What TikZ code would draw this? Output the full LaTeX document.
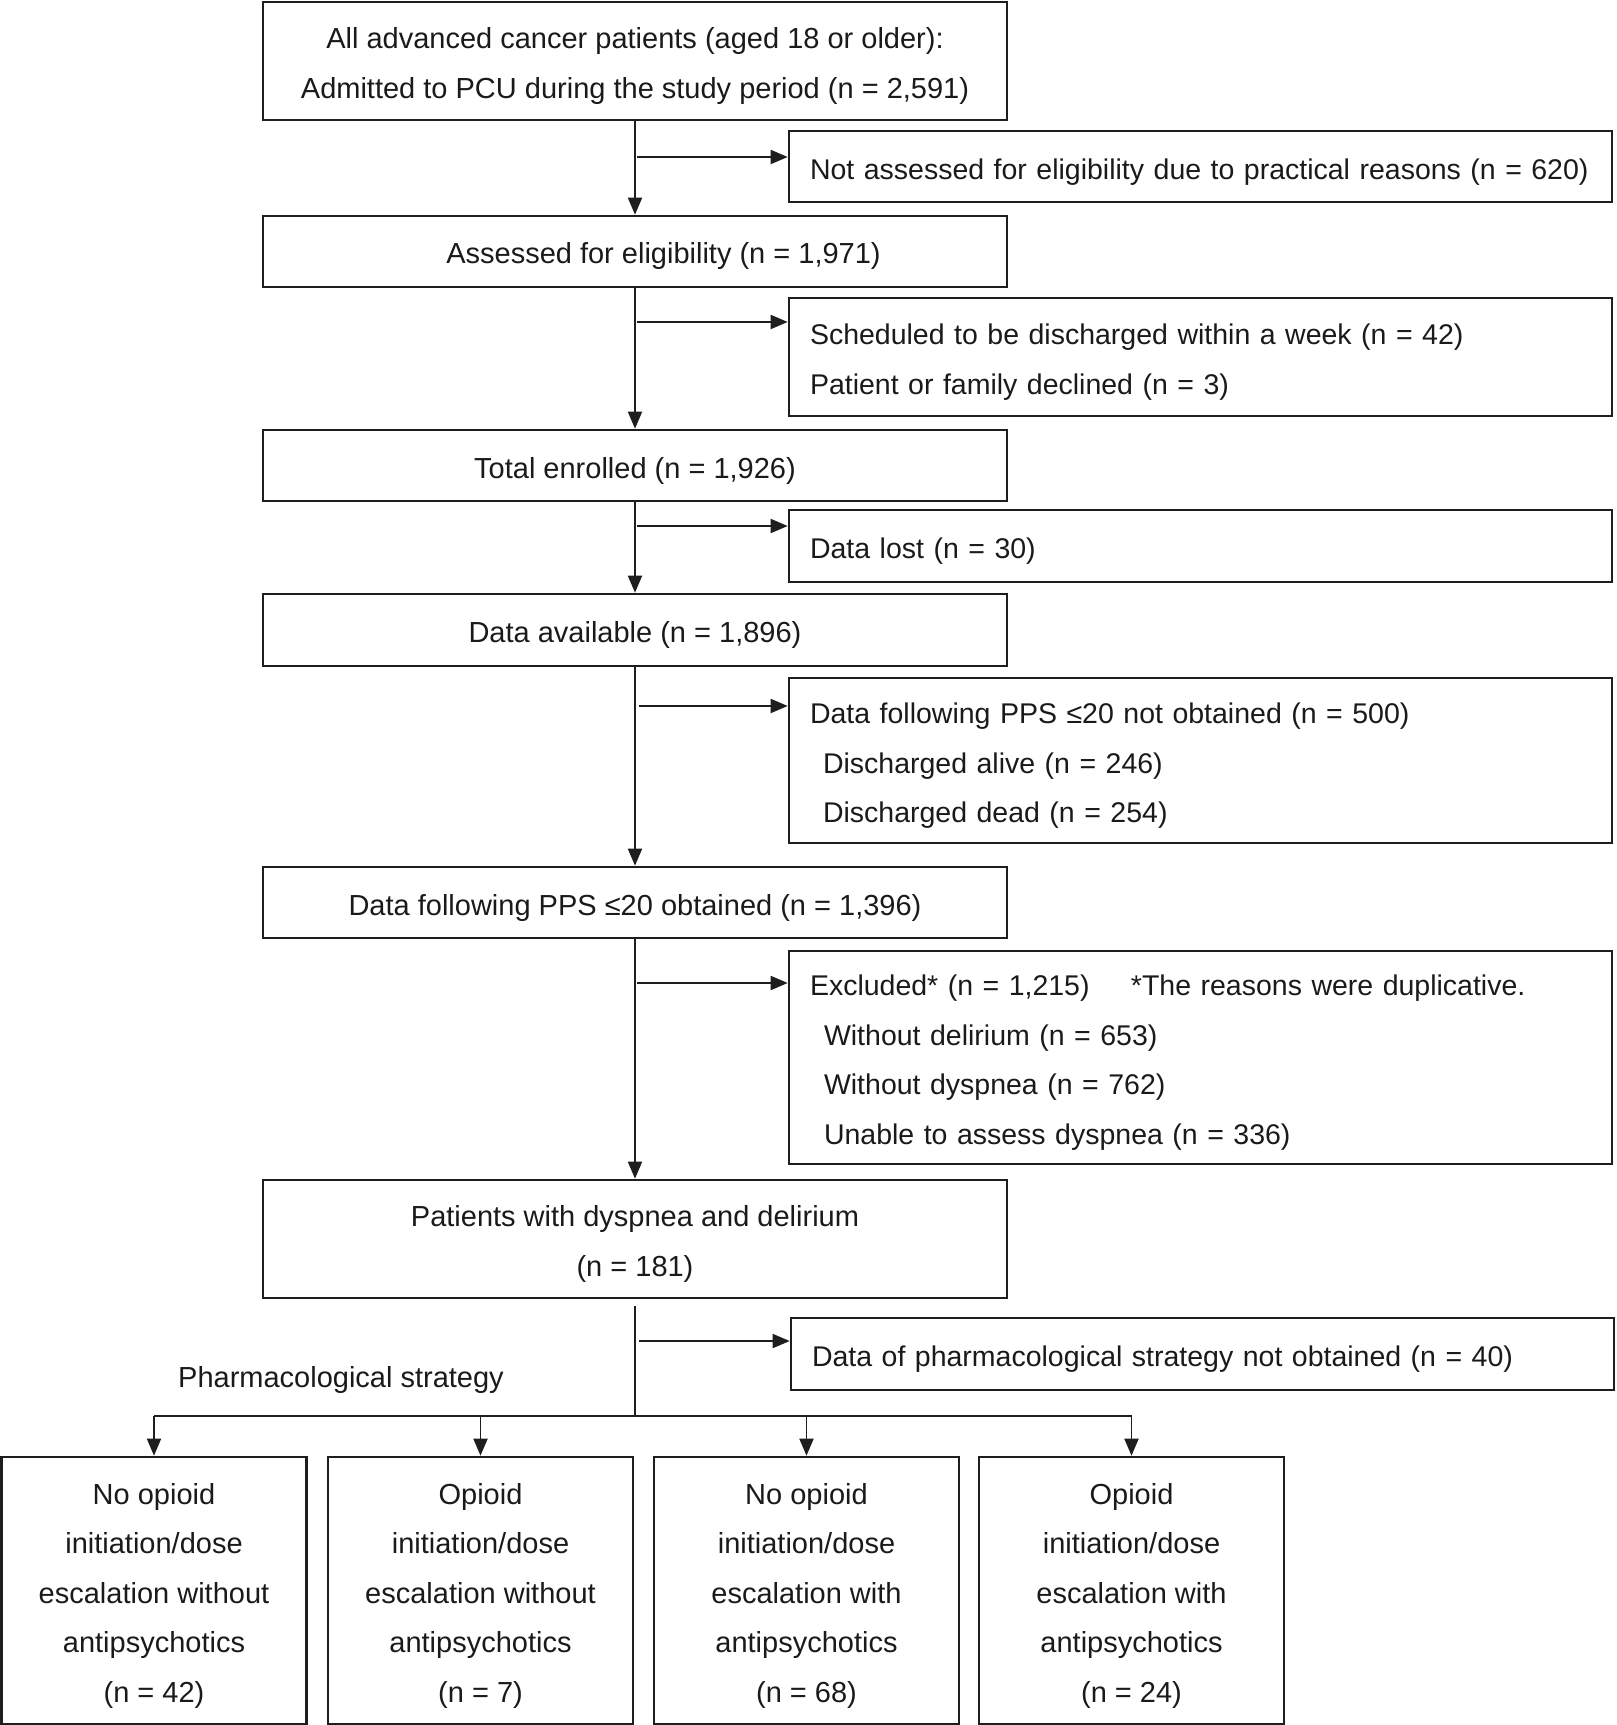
\documentclass[tikz,border=0pt]{standalone}
\usepackage{fontspec}
\setmainfont{Liberation Sans}
\usetikzlibrary{arrows.meta}
\definecolor{linec}{HTML}{1E1E1E}
\definecolor{txt}{HTML}{1A1A1A}
\newcommand\upstrut{\rule{0pt}{31pt}}
\begin{document}
\begin{tikzpicture}[x=1pt,y=-1pt,
 box/.style={draw=linec, line width=2.6pt, inner sep=0pt, font=\fontsize{29}{49.5}\selectfont, text=txt},
 lbox/.style={box, minimum width=744pt, align=center},
 rbox/.style={box, font=\fontsize{28.5}{49.5}\selectfont, text width=781pt, inner xsep=21pt, align=left, minimum width=823pt},
 bbox/.style={box, minimum width=305pt, minimum height=267pt, align=center},
 conn/.style={draw=linec, line width=1.8pt},
 arr/.style={conn, -{Triangle[length=17pt,width=14pt]}},
]
\useasboundingbox (0,0) rectangle (1617,1725);
\node[lbox, minimum height=118pt] (b1) at (635,61) {\upstrut All advanced cancer patients (aged 18 or older):\\Admitted to PCU during the study period (n = 2,591)};
\node[rbox, minimum height=71pt] (r1) at (1200.5,166.5) {\upstrut\mbox{Not assessed for eligibility due to practical reasons (n = 620)}};
\node[lbox, minimum height=71pt] (b2) at (635,251.5) {\upstrut\hspace*{57pt}Assessed for eligibility (n = 1,971)};
\node[rbox, minimum height=118pt] (r2) at (1200.5,357) {\upstrut Scheduled to be discharged within a week (n = 42)\\Patient or family declined (n = 3)};
\node[lbox, minimum height=71pt] (b3) at (635,465.5) {\upstrut Total enrolled (n = 1,926)};
\node[rbox, minimum height=72pt] (r3) at (1200.5,546) {\upstrut Data lost (n = 30)};
\node[lbox, minimum height=72pt] (b4) at (635,630) {\upstrut Data available (n = 1,896)};
\node[rbox, minimum height=165pt] (r4) at (1200.5,760.5) {\upstrut Data following PPS ≤20 not obtained (n = 500)\\\hspace*{13pt}Discharged alive (n = 246)\\\hspace*{13pt}Discharged dead (n = 254)};
\node[lbox, minimum height=71pt] (b5) at (635,902.5) {\upstrut Data following PPS ≤20 obtained (n = 1,396)};
\node[rbox, minimum height=213pt] (r5) at (1200.5,1057.5) {\upstrut\makebox[321pt][l]{Excluded* (n = 1,215)}*The reasons were duplicative.\\\hspace*{14pt}Without delirium (n = 653)\\\hspace*{14pt}Without dyspnea (n = 762)\\\hspace*{14pt}Unable to assess dyspnea (n = 336)};
\node[lbox, minimum height=118pt] (b6) at (635,1239) {\upstrut Patients with dyspnea and delirium\\(n = 181)};
\node[rbox, minimum height=72pt] (r6) at (1202.5,1354) {\upstrut Data of pharmacological strategy not obtained (n = 40)};
\node[font=\fontsize{29}{49.5}\selectfont, text=txt, inner sep=0pt] (ps) at (341,1380) {Pharmacological strategy};
\node[bbox] (c1) at (154,1590.5) {\upstrut No opioid\\initiation/dose\\escalation without\\antipsychotics\\(n = 42)};
\node[bbox] (c2) at (480.5,1590.5) {\upstrut Opioid\\initiation/dose\\escalation without\\antipsychotics\\(n = 7)};
\node[bbox] (c3) at (806.5,1590.5) {\upstrut No opioid\\initiation/dose\\escalation with\\antipsychotics\\(n = 68)};
\node[bbox] (c4) at (1131.5,1590.5) {\upstrut Opioid\\initiation/dose\\escalation with\\antipsychotics\\(n = 24)};
% main flow
\draw[arr] (b1) -- (b2);
\draw[arr] (b2) -- (b3);
\draw[arr] (b3) -- (b4);
\draw[arr] (b4) -- (b5);
\draw[arr] (b5) -- (b6);
% side arrows
\coordinate (s1) at (637,157);
\coordinate (s2) at (637,322);
\coordinate (s3) at (637,526);
\coordinate (s4) at (639,706);
\coordinate (s5) at (637,983);
\coordinate (s6) at (639,1341);
\draw[arr] (s1) -- (s1 -| r1.west);
\draw[arr] (s2) -- (s2 -| r2.west);
\draw[arr] (s3) -- (s3 -| r3.west);
\draw[arr] (s4) -- (s4 -| r4.west);
\draw[arr] (s5) -- (s5 -| r5.west);
\draw[arr] (s6) -- (s6 -| r6.west);
% split
\coordinate (t6) at (635,1306);
\coordinate (split) at (635,1416);
\draw[conn] (t6) -- (split);
\draw[conn] (c1.north |- split) -- (c4.north |- split);
\draw[arr] (c1.north |- split) -- (c1.north);
\draw[arr] (c2.north |- split) -- (c2.north);
\draw[arr] (c3.north |- split) -- (c3.north);
\draw[arr] (c4.north |- split) -- (c4.north);
\end{tikzpicture}
\end{document}
